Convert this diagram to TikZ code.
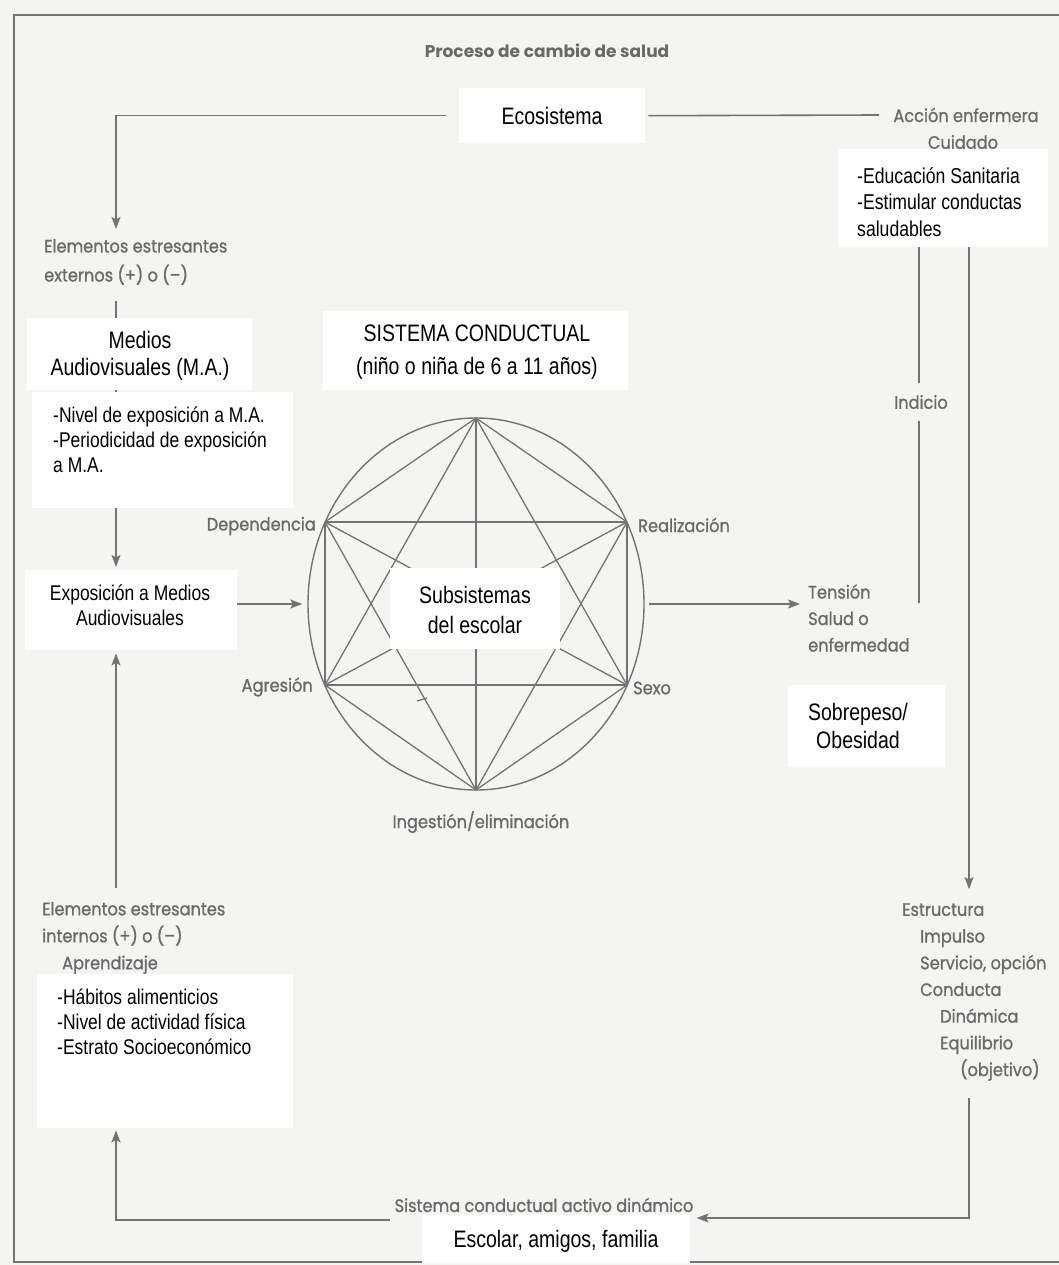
\documentclass[tikz,border=0pt]{standalone}
\usepackage{fontspec}
\usetikzlibrary{arrows.meta,shapes.geometric,calc,backgrounds}
\newfontfamily\narfont[FakeStretch=0.82]{Liberation Sans}
\newfontfamily\lblfont[FakeStretch=0.9,FakeBold=0.9]{Poppins}
\newfontfamily\ttlfont{Poppins}
\definecolor{bgc}{RGB}{244,244,242}
\definecolor{lnc}{RGB}{115,115,115}
\definecolor{txc}{RGB}{105,105,105}
\begin{document}
\begin{tikzpicture}[x=1pt,y=-1pt,
  ln/.style={draw=lnc, line width=1.6pt},
  arr/.style={ln, -{Stealth[length=12pt,width=9pt,inset=2.5pt]}},
  edge6/.style={draw=lnc, line width=1.3pt},
  lbl/.style={text=txc, font=\lblfont\fontsize{18}{27}\selectfont, inner sep=0pt, align=left},
  wbox/.style={fill=white, draw=none, inner sep=0pt, rectangle, anchor=north west},
  bigtxt/.style={font=\narfont\fontsize{23.8}{27}\selectfont, inner sep=0pt, text=black, align=center},
  listtxt/.style={font=\narfont\fontsize{21.3}{25}\selectfont, inner sep=0pt, text=black, align=left}
]
\useasboundingbox (0,0) rectangle (1059,1265);
\begin{scope}[on background layer]
  \fill[bgc] (0,0) rectangle (1059,1265);
\end{scope}
% frame
\draw[ln, line width=1.4pt] (1059,15) -- (14,15) -- (14,1262) -- (1059,1262);

% column coordinates
\coordinate (colL) at (116,0);
\coordinate (colI) at (919,0);
\coordinate (colR) at (969,0);

% ellipse and vertices
\node[draw=lnc, line width=1.4pt, ellipse, minimum width=336pt, minimum height=372pt, inner sep=0pt] (ell) at (476,604) {};
\coordinate (vT) at (476,418);
\coordinate (vB) at (476,790);
\coordinate (vDL) at (325,522);
\coordinate (vDR) at (627,522);
\coordinate (vAL) at (325,685);
\coordinate (vAR) at (627,685);
\foreach \a/\b in {vT/vDL,vT/vDR,vT/vAL,vT/vAR,vT/vB,vDL/vDR,vDL/vAL,vDL/vAR,vDL/vB,vDR/vAL,vDR/vAR,vDR/vB,vAL/vAR,vAL/vB,vAR/vB}
  \draw[edge6] (\a) -- (\b);
\draw[edge6] (417,701) -- (427,698);

% gray labels
\node[lbl, font=\ttlfont\bfseries\fontsize{17}{22}\selectfont] (title) at (547,51) {Proceso de cambio de salud};
\node[lbl, anchor=west, font=\lblfont\fontsize{18}{29}\selectfont] (ext) at (44,262) {Elementos estresantes\\externos (+) o (–)};
\node[lbl, anchor=west] (int) at (42,938) {Elementos estresantes\\internos (+) o (–)\\\hspace*{20pt}Aprendizaje};
\node[lbl, anchor=east] (dep) at (316,526) {Dependencia};
\node[lbl, anchor=east] (agr) at (313,687) {Agresión};
\node[lbl, anchor=west] (rea) at (638,525) {Realización};
\node[lbl, anchor=west] (sexo) at (633,688) {Sexo};
\node[lbl] (ing) at (481,822) {Ingestión/eliminación};
\node[lbl, anchor=west, font=\lblfont\fontsize{18}{26.5}\selectfont] (tension) at (808,618) {Tensión\\Salud o\\enfermedad};
\node[lbl] (indicio) at (921,402) {Indicio};
\node[lbl] (acc) at (966,115) {Acción enfermera};
\node[lbl] (cuid) at (963,142) {Cuidado};
\node[lbl, anchor=west, font=\lblfont\fontsize{18}{26.7}\selectfont] (estr) at (902,992) {Estructura\\\hspace*{18pt}Impulso\\\hspace*{18pt}Servicio, opción\\\hspace*{18pt}Conducta\\\hspace*{38pt}Dinámica\\\hspace*{38pt}Equilibrio\\\hspace*{58pt}(objetivo)};
\node[lbl] (act) at (544,1205) {Sistema conductual activo dinámico};

% white boxes
\node[wbox, minimum width=186pt, minimum height=55pt] (ecobox) at (459,88) {};
\node[bigtxt] (eco) at (552,116) {Ecosistema};

\node[wbox, minimum width=225pt, minimum height=72pt] (mediosbox) at (27,318) {};
\node[bigtxt] (medios) at (140,356) {Medios\\Audiovisuales (M.A.)};

\node[wbox, minimum width=261pt, minimum height=116pt] (nivelbox) at (32,392) {};
\node[listtxt, anchor=west] (nivel) at (53,440) {-Nivel de exposición a M.A.\\-Periodicidad de exposición\\a M.A.};

\node[wbox, minimum width=212pt, minimum height=80pt] (expobox) at (25,570) {};
\node[listtxt, align=center] (expo) at (130,605) {Exposición a Medios\\Audiovisuales};

\node[wbox, minimum width=305pt, minimum height=79pt] (sistbox) at (323,311) {};
\node[bigtxt, font=\narfont\fontsize{23.8}{33}\selectfont] (sist) at (477,352) {SISTEMA CONDUCTUAL\\(niño o niña de 6 a 11 años)};

\node[wbox, minimum width=170pt, minimum height=81pt] (subsbox) at (390,568) {};
\node[bigtxt, font=\narfont\fontsize{23.8}{30}\selectfont] (subs) at (475,610) {Subsistemas\\del escolar};

\node[wbox, minimum width=210pt, minimum height=98pt] (edubox) at (838,149) {};
\node[listtxt, font=\narfont\fontsize{21.5}{26.5}\selectfont, anchor=west] (edu) at (857,202) {-Educación Sanitaria\\-Estimular conductas\\saludables};

\node[wbox, minimum width=157pt, minimum height=82pt] (sobrebox) at (788,685) {};
\node[bigtxt, font=\narfont\fontsize{23.8}{28}\selectfont] (sobre) at (858,726) {Sobrepeso/\\Obesidad};

\node[wbox, minimum width=256pt, minimum height=154pt] (habbox) at (37,974) {};
\node[listtxt, anchor=west] (hab) at (57,1022) {-Hábitos alimenticios\\-Nivel de actividad física\\-Estrato Socioeconómico};

\node[wbox, minimum width=268pt, minimum height=48pt] (escbox) at (422,1215) {};
\node[bigtxt] (esc) at (556,1241) {Escolar, amigos, familia};

% connectors
\begin{scope}[on background layer]
  \draw[arr] ([xshift=-13pt]ecobox.west) -| ([yshift=10pt]ext.north -| colL);
  \draw[ln] ([xshift=3pt]ecobox.east) -- ([xshift=-14pt]acc.west);
  \draw[arr, shorten >=3pt] ([yshift=-16pt]ext.south -| colL) -- (expobox.north -| colL);
  \draw[arr, shorten >=3pt] ([yshift=14pt]int.north -| colL) -- (expobox.south -| colL);
  \draw[arr, shorten >=5pt] (expobox.east |- ell.center) -- (ell.west);
  \draw[arr, shorten <=4pt, shorten >=8pt] (ell.east) -- (ell.east -| tension.west);
  \draw[ln] (edubox.south -| colI) -- ([yshift=12pt]indicio.north -| colI);
  \coordinate (indend) at (919,603);
  \draw[ln] ([yshift=-12pt]indicio.south -| colI) -- (indend);
  \draw[arr, shorten >=14pt] (edubox.south -| colR) -- (estr.north -| colR);
  \draw[arr] ([yshift=-17pt]estr.south -| colR) |- ([shift={(3pt,-13pt)}]act.east);
  \draw[arr, shorten >=2pt] ([shift={(-4pt,-15pt)}]act.west) -| (habbox.south -| colL);
\end{scope}
\end{tikzpicture}
\end{document}
